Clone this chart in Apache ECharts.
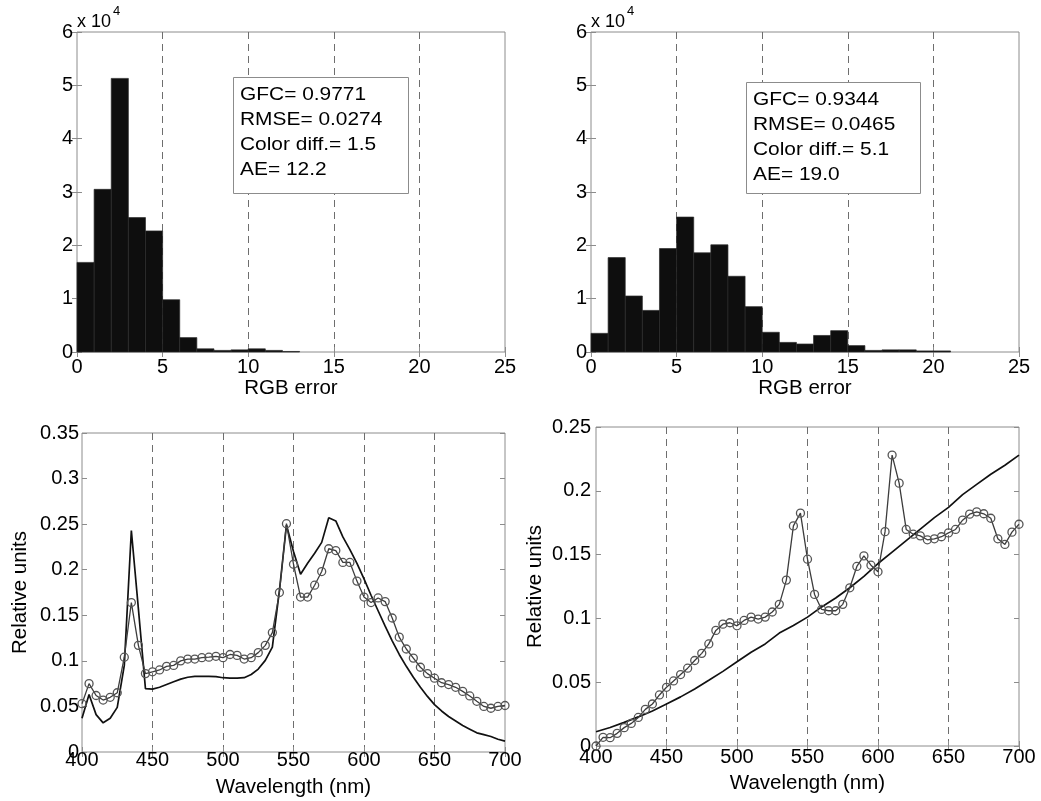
<!DOCTYPE html>
<html>
<head>
<meta charset="utf-8">
<script src="https://cdn.jsdelivr.net/npm/echarts@6/dist/echarts.min.js"></script>
<style>
  html, body { margin: 0; padding: 0; background: #fff; }
  #chart { width: 1041px; height: 801px; }
</style>
</head>
<body>
<div id="chart"></div>
<script>
// ---- Histogram data: RGB error, bins of width 1 ----
const binStarts = [0, 1, 2, 3, 4, 5, 6, 7, 8, 9, 10, 11, 12, 13, 14, 15, 16, 17, 18, 19, 20, 21, 22, 23, 24];
const countsLeft = [16800, 30500, 51300, 25200, 22700, 9800, 2700, 600, 300, 400, 600, 300, 100, 0, 0, 0, 0, 0, 0, 0, 0, 0, 0, 0, 0];
const countsRight = [3500, 17700, 10500, 7800, 19400, 25300, 18600, 20100, 14200, 8500, 3700, 1800, 1500, 3100, 4000, 1200, 300, 400, 400, 200, 200, 0, 0, 0, 0];

const statsLeft = ['GFC= 0.9771', 'RMSE= 0.0274', 'Color diff.= 1.5', 'AE= 12.2'];
const statsRight = ['GFC= 0.9344', 'RMSE= 0.0465', 'Color diff.= 5.1', 'AE= 19.0'];

// ---- Spectra (relative units) ----
const wavelengths = [400, 405, 410, 415, 420, 425, 430, 435, 440, 445, 450, 455, 460, 465, 470, 475, 480, 485, 490, 495,
  500, 505, 510, 515, 520, 525, 530, 535, 540, 545, 550, 555, 560, 565, 570, 575, 580, 585, 590, 595,
  600, 605, 610, 615, 620, 625, 630, 635, 640, 645, 650, 655, 660, 665, 670, 675, 680, 685, 690, 695, 700];

const estimatedLeft = [0.053, 0.075, 0.062, 0.057, 0.060, 0.065, 0.104, 0.164, 0.117, 0.086, 0.088, 0.090, 0.094, 0.095, 0.100, 0.102, 0.102, 0.1035, 0.104, 0.105,
  0.1035, 0.107, 0.106, 0.102, 0.1035, 0.109, 0.117, 0.131, 0.175, 0.2505, 0.206, 0.170, 0.170, 0.183, 0.198, 0.223, 0.221, 0.208, 0.208, 0.1875,
  0.170, 0.164, 0.169, 0.165, 0.147, 0.126, 0.113, 0.103, 0.093, 0.086, 0.081, 0.076, 0.074, 0.071, 0.0665, 0.0615, 0.0556, 0.050, 0.048, 0.050, 0.051];

const measuredLeft = [0.037, 0.063, 0.041, 0.032, 0.037, 0.049, 0.095, 0.243, 0.157, 0.0695, 0.069, 0.071, 0.074, 0.077, 0.080, 0.082, 0.083, 0.083, 0.083, 0.0827,
  0.0815, 0.081, 0.081, 0.0815, 0.085, 0.091, 0.1005, 0.115, 0.177, 0.249, 0.220, 0.195, 0.207, 0.218, 0.230, 0.257, 0.2535, 0.236, 0.222, 0.207,
  0.190, 0.172, 0.155, 0.138, 0.122, 0.107, 0.094, 0.082, 0.071, 0.061, 0.052, 0.045, 0.039, 0.034, 0.029, 0.025, 0.021, 0.019, 0.017, 0.014, 0.012];

const estimatedRight = [0.000, 0.0068, 0.0065, 0.0099, 0.0144, 0.0177, 0.0224, 0.0287, 0.0329, 0.040, 0.046, 0.051, 0.056, 0.061, 0.067, 0.0726, 0.080, 0.0906, 0.0955, 0.0966,
  0.0942, 0.0984, 0.101, 0.0995, 0.101, 0.105, 0.111, 0.130, 0.1725, 0.1825, 0.1464, 0.1188, 0.107, 0.106, 0.106, 0.111, 0.124, 0.1407, 0.149, 0.1417,
  0.1365, 0.168, 0.228, 0.206, 0.1697, 0.166, 0.1647, 0.1616, 0.1624, 0.164, 0.167, 0.1697, 0.177, 0.1817, 0.1835, 0.182, 0.1785, 0.1624, 0.158, 0.1676, 0.1738];

const wavelengthsCoarse = [400, 410, 420, 430, 440, 450, 460, 470, 480, 490, 500, 510, 520, 530, 540, 550,
  560, 570, 580, 590, 600, 610, 620, 630, 640, 650, 660, 670, 680, 690, 700];
const measuredRight = [0.0112, 0.0145, 0.0185, 0.0228, 0.0275, 0.0330, 0.0385, 0.0447, 0.0515, 0.0585, 0.0660, 0.0735, 0.0800, 0.0885, 0.0945, 0.1010,
  0.1090, 0.1160, 0.1240, 0.1330, 0.1430, 0.1520, 0.1610, 0.1700, 0.1790, 0.1870, 0.1970, 0.2050, 0.2130, 0.2200, 0.2280];

// ---- Styling ----
const FONT = '"Liberation Sans", Arial, Helvetica, sans-serif';
const FRAME = '#8c8c8c';
const GRIDLINE = '#6e6e6e';
const TICK_TXT = { fontFamily: FONT, fontSize: 20, color: '#000', lineHeight: 20 };
const NAME_TXT = { fontFamily: FONT, fontSize: 20.5, color: '#000', lineHeight: 20 };

function mainX(grid, min, max, interval, name, labelMargin, nameGap) {
  return {
    type: 'value', gridIndex: grid, min, max, interval, position: 'bottom',
    name, nameLocation: 'middle', nameGap, nameTextStyle: NAME_TXT,
    axisLine: { show: false },
    axisTick: { show: true, inside: true, length: 5, lineStyle: { color: FRAME } },
    axisLabel: Object.assign({ margin: labelMargin }, TICK_TXT),
    splitLine: { show: true, showMinLine: false, showMaxLine: false,
      lineStyle: { type: [7, 5], color: GRIDLINE, width: 1 } }
  };
}
function sideX(grid, min, max, interval) {
  return {
    type: 'value', gridIndex: grid, min, max, interval, position: 'top',
    axisLine: { show: false }, axisLabel: { show: false }, splitLine: { show: false },
    axisTick: { show: true, inside: true, length: 5, lineStyle: { color: FRAME } }
  };
}
function mainY(grid, min, max, interval, labelMargin, extra) {
  return Object.assign({
    type: 'value', gridIndex: grid, min, max, interval, position: 'left',
    axisLine: { show: false },
    axisTick: { show: true, inside: true, length: 5, lineStyle: { color: FRAME } },
    axisLabel: Object.assign({ margin: labelMargin }, TICK_TXT),
    splitLine: { show: false }
  }, extra || {});
}
function sideY(grid, min, max, interval) {
  return {
    type: 'value', gridIndex: grid, min, max, interval, position: 'right',
    axisLine: { show: false }, axisLabel: { show: false }, splitLine: { show: false },
    axisTick: { show: true, inside: true, length: 5, lineStyle: { color: FRAME } }
  };
}

// "x 10^4" multiplier shown above the count axis
const exponentName = {
  name: '{a|x 10}{b|4}',
  nameLocation: 'end',
  nameGap: 1,
  nameTextStyle: {
    align: 'left', verticalAlign: 'bottom',
    rich: {
      a: { fontFamily: FONT, fontSize: 18, color: '#000', lineHeight: 26, verticalAlign: 'bottom' },
      b: { fontFamily: FONT, fontSize: 13, color: '#000', lineHeight: 26, verticalAlign: 'top', padding: [0, 0, 0, 2] }
    }
  }
};
const countLabels = Object.assign({ margin: 4, formatter: v => String(v / 10000) }, TICK_TXT);

function histogram(axisIdx, counts) {
  return {
    type: 'custom', xAxisIndex: axisIdx, yAxisIndex: axisIdx,
    data: binStarts.map((b, i) => [b, b + 1, counts[i]]).filter(d => d[2] > 0),
    encode: { x: [0, 1], y: 2 },
    renderItem(params, api) {
      const top = api.coord([api.value(0), api.value(2)]);
      const base = api.coord([api.value(1), 0]);
      return {
        type: 'rect',
        shape: { x: top[0], y: top[1], width: base[0] - top[0], height: base[1] - top[1] },
        style: { fill: '#0e0e0e', stroke: '#2b2b2b', lineWidth: 0.7 }
      };
    }
  };
}
function solidLine(axisIdx, xs, ys) {
  return {
    type: 'line', xAxisIndex: axisIdx, yAxisIndex: axisIdx,
    data: xs.map((x, i) => [x, ys[i]]),
    symbol: 'none', smooth: false,
    lineStyle: { color: '#111', width: 1.7 }, z: 3
  };
}
function circleLine(axisIdx, xs, ys) {
  return {
    type: 'line', xAxisIndex: axisIdx, yAxisIndex: axisIdx,
    data: xs.map((x, i) => [x, ys[i]]),
    symbol: 'circle', symbolSize: 8, showSymbol: true,
    itemStyle: { color: 'rgba(0,0,0,0)', borderColor: '#555', borderWidth: 1.3 },
    lineStyle: { color: '#3c3c3c', width: 1.3 }, z: 4
  };
}
function statsBox(x, y, w, h, lines) {
  return [
    { type: 'rect', shape: { x: x + 0.5, y: y + 0.5, width: w, height: h },
      style: { fill: '#fff', stroke: FRAME, lineWidth: 1 }, z: 100 },
    { type: 'text', x: x + 7, y: y + 6, scaleX: 1.13,
      style: { text: lines.join('\n'), fontFamily: FONT, fontSize: 18.5, lineHeight: 24.7,
        fill: '#000', verticalAlign: 'top', align: 'left' }, z: 101 }
  ];
}

const gridBox = { show: true, borderColor: FRAME, borderWidth: 1, backgroundColor: '#fff', containLabel: false };

const option = {
  backgroundColor: '#fff',
  animation: false,
  grid: [
    Object.assign({ left: 77, top: 32, width: 428, height: 320 }, gridBox),
    Object.assign({ left: 591, top: 32, width: 428, height: 320 }, gridBox),
    Object.assign({ left: 82, top: 433, width: 423, height: 319 }, gridBox),
    Object.assign({ left: 596, top: 427, width: 423, height: 319 }, gridBox)
  ],
  xAxis: [
    mainX(0, 0, 25, 5, 'RGB error', 5, 25),
    mainX(1, 0, 25, 5, 'RGB error', 5, 25),
    mainX(2, 400, 700, 50, 'Wavelength (nm)', -2, 25),
    mainX(3, 400, 700, 50, 'Wavelength (nm)', 1, 27),
    sideX(0, 0, 25, 5), sideX(1, 0, 25, 5), sideX(2, 400, 700, 50), sideX(3, 400, 700, 50)
  ],
  yAxis: [
    mainY(0, 0, 60000, 10000, 4, Object.assign({ axisLabel: countLabels }, exponentName)),
    mainY(1, 0, 60000, 10000, 4, Object.assign({ axisLabel: countLabels }, exponentName)),
    mainY(2, 0, 0.35, 0.05, 3, { name: 'Relative units', nameLocation: 'middle', nameGap: 52, nameTextStyle: NAME_TXT }),
    mainY(3, 0, 0.25, 0.05, 5, { name: 'Relative units', nameLocation: 'middle', nameGap: 51, nameTextStyle: NAME_TXT }),
    sideY(0, 0, 60000, 10000), sideY(1, 0, 60000, 10000), sideY(2, 0, 0.35, 0.05), sideY(3, 0, 0.25, 0.05)
  ],
  series: [
    histogram(0, countsLeft),
    histogram(1, countsRight),
    solidLine(2, wavelengths, measuredLeft),
    circleLine(2, wavelengths, estimatedLeft),
    solidLine(3, wavelengthsCoarse, measuredRight),
    circleLine(3, wavelengths, estimatedRight)
  ],
  graphic: [].concat(
    statsBox(233, 77, 175, 116, statsLeft),
    statsBox(746, 82, 174, 111, statsRight)
  )
};

const chart = echarts.init(document.getElementById('chart'), null, { renderer: 'canvas' });
chart.setOption(option);
</script>
</body>
</html>
